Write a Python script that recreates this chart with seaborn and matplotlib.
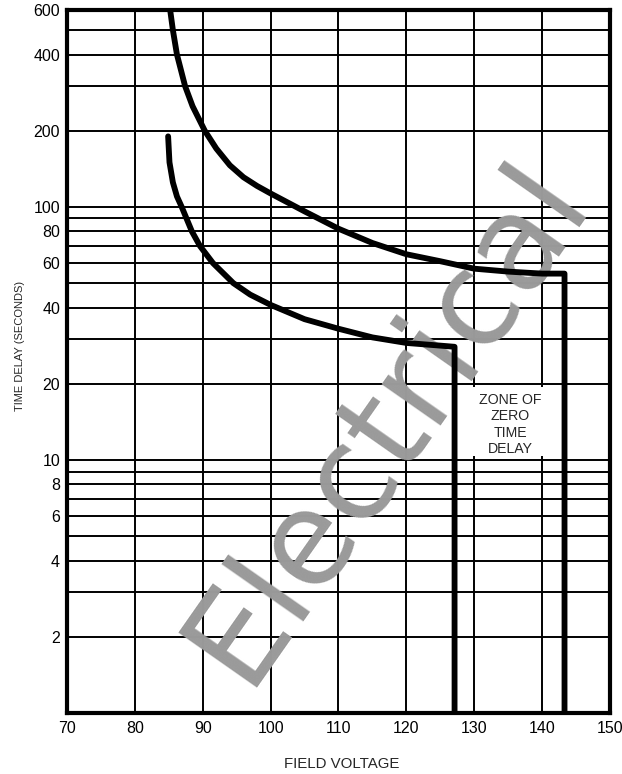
import pandas as pd
import matplotlib
matplotlib.use('Agg')
import matplotlib.pyplot as plt
import seaborn as sns

# Data
# upper curve (field voltage vs time delay), ends with drop to zone of zero delay
upper_volts = [85.2, 85.6, 86.2, 87.4, 88.5, 90.3, 92, 94, 96, 98, 100, 105, 110,
               115, 120, 125, 130, 135, 140, 143.3, 143.3]
upper_delay = [600, 500, 400, 300, 250, 200, 170, 146, 131, 121, 113, 96, 82,
               72, 65, 61, 57, 55.5, 54.5, 54.5, 1]
# lower curve
lower_volts = [84.9, 85.1, 85.6, 86.2, 86.9, 88.4, 89.6, 91.5, 94.5, 97, 100, 105,
               110, 115, 120, 125, 127.1, 127.1]
lower_delay = [190, 150, 125, 110, 100, 80, 70, 60, 50, 45, 41, 36,
               33, 30.5, 29, 28.3, 28, 1]

x_ticks = [70, 80, 90, 100, 110, 120, 130, 140, 150]
y_major = [2, 4, 6, 8, 10, 20, 40, 60, 80, 100, 200, 400, 600]
y_minor = [3, 5, 7, 9, 30, 50, 70, 90, 300, 500]

df_up = pd.DataFrame({'volts': upper_volts, 'delay': upper_delay})
df_lo = pd.DataFrame({'volts': lower_volts, 'delay': lower_delay})

sns.set_style('white')
plt.rcParams['font.family'] = ['Liberation Sans', 'DejaVu Sans']

fig = plt.figure(figsize=(6.22, 7.74), dpi=100)
ax = fig.add_axes([0.1077, 0.0788, 0.8730, 0.9083])

sns.lineplot(x='volts', y='delay', data=df_up, sort=False, estimator=None,
             color='black', linewidth=4.2, ax=ax, zorder=3)
sns.lineplot(x='volts', y='delay', data=df_lo, sort=False, estimator=None,
             color='black', linewidth=4.2, ax=ax, zorder=3)

ax.set_yscale('log')
ax.set_xlim(70, 150)
ax.set_ylim(1, 600)
ax.set_xticks(x_ticks)
ax.set_xticklabels([str(v) for v in x_ticks])
ax.set_yticks(y_major)
ax.set_yticklabels([str(v) for v in y_major])
ax.set_yticks(y_minor, minor=True)
ax.yaxis.set_minor_formatter(matplotlib.ticker.NullFormatter())
ax.tick_params(axis='both', which='both', length=0, labelsize=11.5, colors='black')
ax.tick_params(axis='y', pad=5)
ax.tick_params(axis='x', pad=6)
ax.grid(True, which='both', color='black', linewidth=1.4)

for s in ax.spines.values():
    s.set_color('black')
    s.set_linewidth(3)

ax.set_xlabel('FIELD VOLTAGE', fontsize=10.8)
ax.set_ylabel('TIME DELAY (SECONDS)', fontsize=8)
ax.xaxis.set_label_coords(0.506, -0.0626)
ax.yaxis.set_label_coords(-0.077, 0.522)

# clear the zone area and label it
ax.fill_betweenx([10.35, 19.5], 127.3, 143.2, color='white', zorder=2.5, linewidth=0)
ax.text(135.3, 13.8, 'ZONE OF\nZERO\nTIME\nDELAY', ha='center', va='center',
        fontsize=10.2, linespacing=1.2, zorder=4)

# watermark
ax.text(245 / 622, 1 - 688 / 774, 'Electrical', transform=fig.transFigure,
        rotation=55, rotation_mode='anchor', ha='left', va='baseline',
        fontsize=94, family='DejaVu Sans', color='#9a9a9a', zorder=1,
        clip_on=False)

fig.savefig('out.png', dpi=100)
